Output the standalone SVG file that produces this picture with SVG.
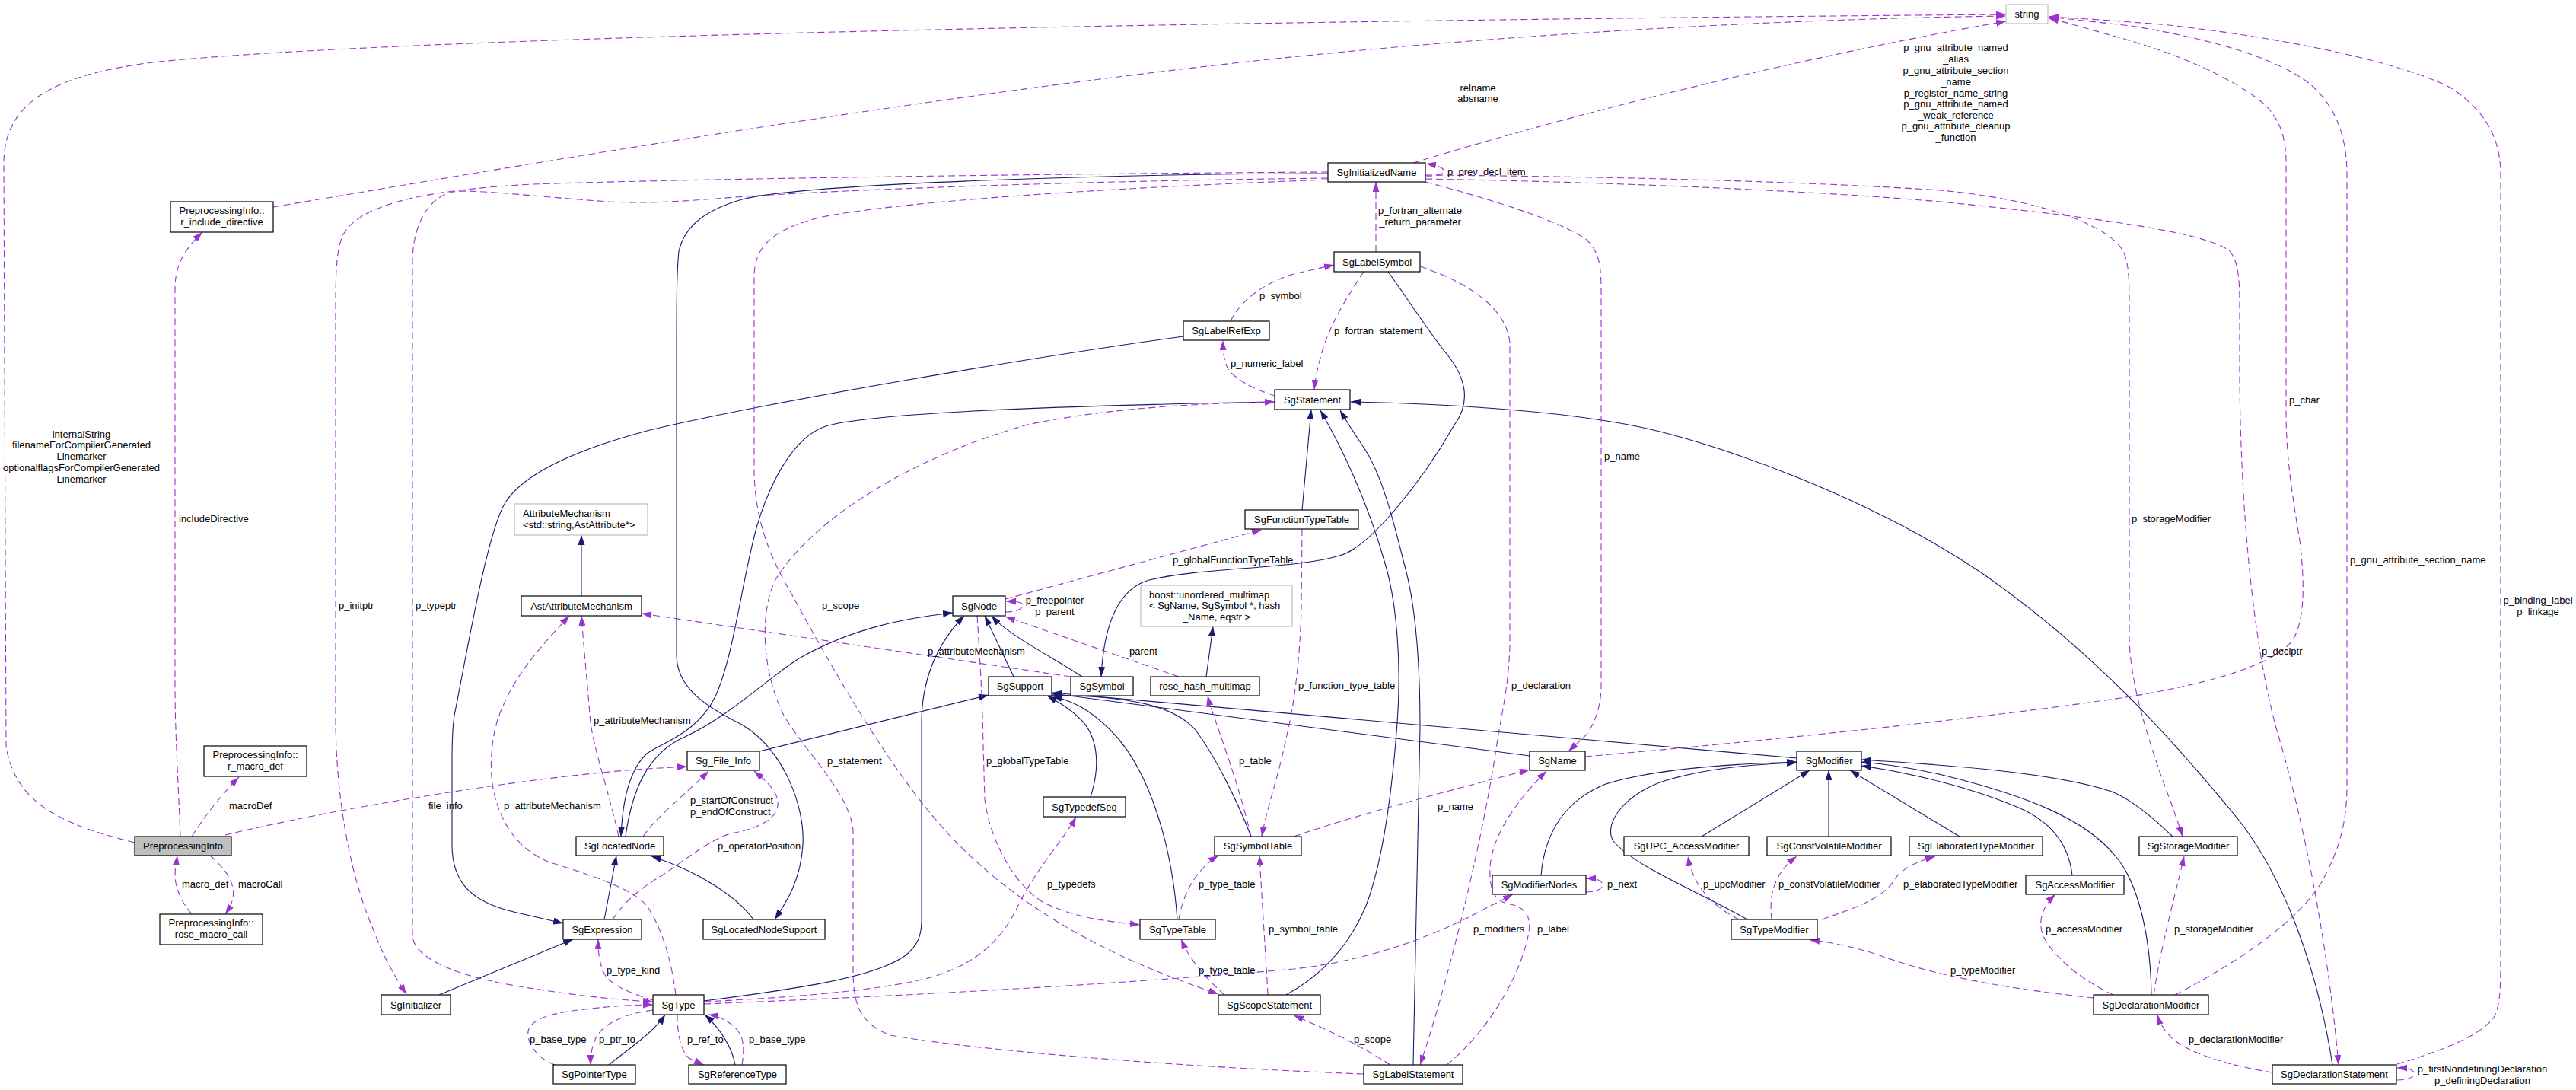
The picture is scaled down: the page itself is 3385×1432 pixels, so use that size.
<svg xmlns="http://www.w3.org/2000/svg" width="3385" height="1432" viewBox="0 0 3385 1432">
<defs>
<style>
text{font-family:"Liberation Sans",Arial,sans-serif;font-size:13px;fill:#000}
.n rect{fill:#fff;stroke:#000;stroke-width:1.2}
.g rect{fill:#fff;stroke:#bfbfbf;stroke-width:1.2}
.h rect{fill:#bfbfbf;stroke:#000;stroke-width:1.2}
.m{text-anchor:middle}
.e{fill:none;stroke:#191970;stroke-width:1.1;marker-end:url(#an)}
.d{fill:none;stroke:#9a32cd;stroke-width:1.1;stroke-dasharray:9,5;marker-end:url(#ap)}
</style>
<marker id="an" viewBox="0 0 13 9" refX="13" refY="4.5" markerWidth="13" markerHeight="9" markerUnits="userSpaceOnUse" orient="auto"><path d="M0,0 L13,4.5 L0,9 z" fill="#191970"/></marker>
<marker id="ap" viewBox="0 0 13 9" refX="13" refY="4.5" markerWidth="13" markerHeight="9" markerUnits="userSpaceOnUse" orient="auto"><path d="M0,0 L13,4.5 L0,9 z" fill="#9a32cd"/></marker>
</defs>
<rect width="3385" height="1432" fill="#fff"/>
<g id="connectors">
<!-- inheritance -->
<path class="e" d="M764,783 L764,703"/>
<path class="e" d="M1585,889 L1594,823"/>
<path class="e" d="M1332,889 L1294,809"/>
<path class="e" d="M1422,889 C1390,867 1325,835 1303,809"/>
<path class="e" d="M925,1315 C1040,1300 1150,1285 1190,1255 C1205,1243 1211,1230 1211,1210 L1211,950 C1211,890 1232,845 1267,809"/>
<path class="e" d="M822,1099 C830,1040 850,990 900,968 C960,940 1010,890 1050,865 C1120,825 1190,812 1252,805"/>
<path class="e" d="M1675,528 C1450,532 1150,540 1085,560 C1040,575 1010,640 995,690 C975,760 965,860 940,915 C915,965 870,975 850,990 C828,1010 818,1050 816,1099"/>
<path class="e" d="M794,1208 L810,1124"/>
<path class="e" d="M577,1307 L753,1234"/>
<path class="e" d="M990,1208 C970,1180 920,1145 856,1125"/>
<path class="e" d="M1745,228 C1500,228 1060,240 975,262 C930,275 900,295 892,330 C889,360 889,400 889,480 L889,860 C889,900 920,925 975,952 C1030,985 1058,1060 1055,1110 C1052,1160 1030,1190 1018,1208"/>
<path class="e" d="M1555,442 C1350,470 1000,530 850,566 C760,590 690,620 664,660 C640,700 615,850 597,940 C594,960 594,980 594,1000 L594,1110 C594,1160 620,1185 675,1198 L740,1213"/>
<path class="e" d="M998,987 L1299,913"/>
<path class="e" d="M1644,1099 C1625,1050 1595,990 1570,958 C1540,925 1480,915 1383,913"/>
<path class="e" d="M1547,1208 C1540,1110 1510,1010 1460,960 C1430,930 1410,922 1383,914"/>
<path class="e" d="M1433,1047 C1448,1000 1440,965 1420,945 C1405,930 1390,922 1376,914"/>
<path class="e" d="M2010,993 L1382,911"/>
<path class="e" d="M2361,996 L1383,910"/>
<path class="e" d="M2025,1150 C2030,1090 2060,1050 2110,1030 C2180,1008 2290,1003 2361,1001"/>
<path class="e" d="M2296,1208 C2230,1170 2150,1140 2120,1105 C2105,1080 2140,1040 2190,1025 C2240,1010 2300,1004 2361,1002"/>
<path class="e" d="M2236,1099 L2378,1012"/>
<path class="e" d="M2403,1099 L2403,1012"/>
<path class="e" d="M2575,1099 L2431,1012"/>
<path class="e" d="M2723,1150 C2718,1105 2690,1075 2645,1058 C2590,1035 2510,1015 2446,1006"/>
<path class="e" d="M2827,1307 C2826,1230 2810,1160 2780,1125 C2740,1075 2660,1045 2560,1020 C2520,1010 2480,1004 2446,1001"/>
<path class="e" d="M2855,1099 C2830,1075 2800,1050 2775,1040 C2700,1015 2560,1005 2446,998"/>
<path class="e" d="M1711,670 L1723,538"/>
<path class="e" d="M1690,1307 C1730,1285 1770,1250 1795,1190 C1818,1130 1830,1030 1836,950 C1842,870 1835,790 1820,740 C1800,670 1770,600 1735,539"/>
<path class="e" d="M1857,1399 L1866,955 C1866,880 1862,800 1845,740 C1830,680 1815,620 1790,585 C1780,570 1770,555 1761,539"/>
<path class="e" d="M3065,1399 C3045,1270 3000,1150 2940,1075 C2870,990 2760,860 2600,750 C2450,650 2250,580 2150,560 C2050,540 1900,530 1775,528"/>
<path class="e" d="M1824,357 C1855,400 1880,440 1905,470 C1935,510 1925,540 1910,560 C1870,630 1800,720 1760,730 C1700,748 1580,745 1510,762 C1465,775 1450,830 1447,889"/>
<path class="e" d="M800,1399 C830,1375 860,1355 874,1333"/>
<path class="e" d="M966,1399 C962,1375 945,1350 926,1333"/>
<!-- usage -->
<path class="d" d="M177,1107 C90,1085 20,1060 8,980 L5,215 C5,140 60,100 200,82 C500,50 1500,28 2636,19"/>
<path class="d" d="M359,272 C700,215 1300,110 1800,65 C2100,38 2400,24 2636,21"/>
<path class="d" d="M1857,214 C2150,125 2450,60 2636,28"/>
<path class="d" d="M237,1099 C233,1000 230,960 230,900 L230,380 C230,350 240,330 266,305"/>
<path class="d" d="M252,1099 C270,1070 295,1040 314,1021"/>
<path class="d" d="M276,1124 C295,1140 310,1160 306,1180 C304,1190 300,1195 296,1201"/>
<path class="d" d="M252,1201 C238,1185 230,1165 230,1150 C230,1140 232,1132 233,1124"/>
<path class="d" d="M296,1097 C450,1060 700,1020 850,1010 L903,1007"/>
<path class="d" d="M1745,226 C1400,228 900,235 700,242 C550,250 470,270 450,310 C442,330 441,360 441,400 L441,950 C442,1050 460,1150 490,1220 C505,1260 520,1285 534,1306"/>
<path class="d" d="M1745,234 C1400,238 1100,250 980,258 C900,264 860,268 800,265 C700,258 620,248 595,252 C560,260 543,300 542,340 L542,1230 C545,1260 600,1280 660,1292 C740,1306 800,1313 858,1316"/>
<path class="d" d="M1745,236 C1500,245 1200,262 1080,285 C1020,300 993,320 991,360 L991,620 C992,680 1010,730 1040,780 C1100,890 1180,1030 1260,1110 C1360,1210 1480,1265 1601,1306"/>
<path class="d" d="M1792,1411 C1500,1400 1250,1375 1170,1360 C1130,1345 1122,1320 1121,1280 L1121,1090 C1115,1040 1060,990 1030,940 C1000,880 998,800 1020,760 C1070,680 1200,600 1350,558 C1460,535 1580,530 1675,528"/>
<path class="d" d="M1873,231 C1888,232 1900,228 1897,223 C1894,219 1886,217 1874,215"/>
<path class="d" d="M1808,331 L1808,239"/>
<path class="d" d="M1792,357 C1770,390 1745,430 1735,470 C1730,490 1728,500 1727,512"/>
<path class="d" d="M1617,422 C1630,395 1660,372 1700,360 L1753,348"/>
<path class="d" d="M1675,520 C1650,512 1625,500 1614,485 C1608,475 1607,460 1607,447"/>
<path class="d" d="M1866,350 C1940,375 1980,410 1984,450 L1984,850 C1982,900 1975,930 1968,970 C1950,1100 1900,1300 1866,1399"/>
<path class="d" d="M1873,239 C1960,262 2050,290 2085,315 C2100,330 2104,345 2104,380 L2104,900 C2104,930 2095,950 2085,965 L2061,987"/>
<path class="d" d="M1700,1099 C1800,1065 1920,1035 2010,1011"/>
<path class="d" d="M1666,1307 C1663,1250 1658,1180 1655,1124"/>
<path class="d" d="M1549,1208 C1555,1170 1575,1140 1601,1124"/>
<path class="d" d="M1609,1307 C1590,1290 1565,1265 1552,1234"/>
<path class="d" d="M1644,1099 C1630,1040 1612,990 1600,955 C1595,940 1590,928 1587,914"/>
<path class="d" d="M1711,695 L1710,800 C1708,870 1700,930 1690,970 C1680,1020 1665,1060 1658,1099"/>
<path class="d" d="M1321,787 L1658,696"/>
<path class="d" d="M1321,804 C1338,804 1347,798 1343,793 C1339,790 1332,790 1322,790"/>
<path class="d" d="M1549,889 L1321,810"/>
<path class="d" d="M1407,889 L843,806"/>
<path class="d" d="M813,1099 C800,1040 782,990 776,950 C772,900 767,850 764,809"/>
<path class="d" d="M888,1307 C882,1260 870,1220 850,1190 C830,1165 760,1145 720,1132 C680,1115 655,1080 647,1030 C642,990 650,950 660,930 C680,880 720,840 748,809"/>
<path class="d" d="M805,1208 C820,1185 840,1168 870,1150 C900,1130 930,1105 960,1095 C1000,1088 1020,1075 1022,1058 C1024,1040 1005,1025 991,1013"/>
<path class="d" d="M845,1099 C865,1070 905,1040 931,1013"/>
<path class="d" d="M858,1314 C830,1305 800,1295 792,1275 C787,1260 786,1250 786,1234"/>
<path class="d" d="M925,1316 C1050,1310 1170,1300 1230,1282 C1290,1262 1320,1230 1340,1185 C1370,1130 1400,1100 1414,1073"/>
<path class="d" d="M1284,809 C1288,870 1291,920 1292,980 L1294,1050 C1300,1100 1330,1160 1370,1185 C1410,1205 1450,1210 1498,1215"/>
<path class="d" d="M925,1319 C1150,1310 1450,1295 1700,1273 C1800,1262 1880,1230 1930,1205 L1988,1175"/>
<path class="d" d="M2084,1172 C2100,1172 2108,1166 2105,1160 C2102,1155 2095,1154 2084,1154"/>
<path class="d" d="M1827,1399 C1790,1375 1750,1355 1700,1334"/>
<path class="d" d="M1901,1399 C1950,1360 1995,1290 2008,1230 C2015,1200 2000,1190 1980,1187 C1962,1183 1957,1165 1958,1140 C1960,1100 1990,1055 2032,1013"/>
<path class="d" d="M2285,1208 C2250,1190 2225,1165 2218,1125"/>
<path class="d" d="M2328,1208 C2325,1180 2328,1150 2361,1125"/>
<path class="d" d="M2394,1208 C2440,1192 2475,1180 2490,1155 C2500,1140 2520,1132 2543,1125"/>
<path class="d" d="M2751,1311 C2650,1300 2550,1285 2470,1255 C2430,1242 2400,1237 2378,1235"/>
<path class="d" d="M2777,1307 C2740,1290 2700,1260 2685,1230 C2675,1205 2690,1185 2701,1175"/>
<path class="d" d="M2830,1307 C2840,1240 2860,1170 2870,1125"/>
<path class="d" d="M1873,230 C2150,232 2400,240 2550,250 C2680,262 2770,295 2790,330 C2797,345 2798,365 2798,400 L2798,840 C2800,900 2820,960 2840,1020 C2855,1060 2862,1080 2868,1099"/>
<path class="d" d="M1873,235 C2150,240 2400,252 2550,265 C2750,285 2900,305 2930,330 C2940,342 2943,360 2943,400 L2943,500 C2945,700 2965,870 2995,970 C3030,1090 3060,1250 3073,1399"/>
<path class="d" d="M2083,994 C2300,975 2600,945 2800,915 C2920,895 2990,870 3012,842 C3030,815 3028,760 3022,710 C3012,650 3004,600 3004,540 L3004,210 C3003,170 2990,145 2960,125 C2920,97 2860,70 2780,48 C2740,37 2715,29 2692,24"/>
<path class="d" d="M2858,1307 C2940,1265 3020,1210 3050,1160 C3075,1115 3084,1080 3084,1030 L3084,230 C3084,180 3070,140 3035,110 C2990,75 2900,50 2800,34 L2692,22"/>
<path class="d" d="M3150,1398 C3210,1380 3262,1360 3278,1335 C3285,1320 3286,1300 3286,1260 L3286,230 C3286,180 3265,145 3220,115 C3150,80 3000,50 2850,33 C2780,27 2730,24 2692,22"/>
<path class="d" d="M3150,1419 C3165,1419 3175,1414 3172,1409 C3169,1404 3162,1403 3150,1403"/>
<path class="d" d="M2986,1409 C2930,1400 2880,1385 2855,1365 C2845,1355 2838,1345 2835,1333"/>
<path class="d" d="M729,1399 C705,1390 692,1370 694,1355 C697,1340 720,1332 760,1327 C800,1322 830,1320 858,1320"/>
<path class="d" d="M858,1327 C820,1332 795,1345 785,1360 C778,1372 776,1385 776,1399"/>
<path class="d" d="M890,1333 C890,1360 895,1380 905,1390 L925,1399"/>
<path class="d" d="M975,1399 C978,1380 978,1365 970,1355 C960,1342 945,1335 931,1333"/>
<!-- labels -->
<g id="edge-labels">
<text class="m" x="107" y="574.5">internalString</text>
<text class="m" x="107" y="589">filenameForCompilerGenerated</text>
<text class="m" x="107" y="604">Linemarker</text>
<text class="m" x="107" y="618.5">optionalflagsForCompilerGenerated</text>
<text class="m" x="107" y="633.5">Linemarker</text>
<text class="m" x="1942" y="119.5">relname</text>
<text class="m" x="1942" y="134">absname</text>
<text x="235" y="686">includeDirective</text>
<text x="301" y="1062.5">macroDef</text>
<text x="313" y="1166">macroCall</text>
<text x="239" y="1166">macro_def</text>
<text x="563" y="1062.5">file_info</text>
<text x="445" y="799.5">p_initptr</text>
<text x="546" y="799.5">p_typeptr</text>
<text class="m" x="2570" y="67">p_gnu_attribute_named</text>
<text class="m" x="2570" y="82">_alias</text>
<text class="m" x="2570" y="97">p_gnu_attribute_section</text>
<text class="m" x="2570" y="111.5">_name</text>
<text class="m" x="2570" y="126.5">p_register_name_string</text>
<text class="m" x="2570" y="141">p_gnu_attribute_named</text>
<text class="m" x="2570" y="155.5">_weak_reference</text>
<text class="m" x="2570" y="170">p_gnu_attribute_cleanup</text>
<text class="m" x="2570" y="185">_function</text>
<text x="1902" y="230">p_prev_decl_item</text>
<text class="m" x="1866" y="281">p_fortran_alternate</text>
<text class="m" x="1866" y="296">_return_parameter</text>
<text x="1753" y="438.5">p_fortran_statement</text>
<text x="1655" y="392.5">p_symbol</text>
<text x="1617" y="482">p_numeric_label</text>
<text x="1986" y="905">p_declaration</text>
<text x="2108" y="603.5">p_name</text>
<text x="1889" y="1063.5">p_name</text>
<text x="1667" y="1225">p_symbol_table</text>
<text x="1575" y="1166">p_type_table</text>
<text x="1575" y="1278.5">p_type_table</text>
<text x="1628" y="1003.5">p_table</text>
<text x="1706" y="905">p_function_type_table</text>
<text x="1541" y="739.5">p_globalFunctionTypeTable</text>
<text class="m" x="1386" y="792.5">p_freepointer</text>
<text class="m" x="1386" y="807.5">p_parent</text>
<text x="1484" y="859.5">parent</text>
<text x="1219" y="859.5">p_attributeMechanism</text>
<text x="780" y="950.5">p_attributeMechanism</text>
<text x="662" y="1062.5">p_attributeMechanism</text>
<text x="943" y="1115.5">p_operatorPosition</text>
<text x="907" y="1056">p_startOfConstruct</text>
<text x="907" y="1071">p_endOfConstruct</text>
<text x="797" y="1278.5">p_type_kind</text>
<text x="1376" y="1166">p_typedefs</text>
<text x="1296" y="1003.5">p_globalTypeTable</text>
<text x="1087" y="1003.5">p_statement</text>
<text x="1080" y="799.5">p_scope</text>
<text x="1779" y="1369.5">p_scope</text>
<text x="1936" y="1225">p_modifiers</text>
<text x="2020" y="1225">p_label</text>
<text x="2112" y="1166">p_next</text>
<text x="2238" y="1166">p_upcModifier</text>
<text x="2337" y="1166">p_constVolatileModifier</text>
<text x="2501" y="1166">p_elaboratedTypeModifier</text>
<text x="2563" y="1278.5">p_typeModifier</text>
<text x="2688" y="1225">p_accessModifier</text>
<text x="2857" y="1225">p_storageModifier</text>
<text x="2801" y="686">p_storageModifier</text>
<text x="2972" y="859.5">p_declptr</text>
<text x="3008" y="529.5">p_char</text>
<text x="3088" y="739.5">p_gnu_attribute_section_name</text>
<text class="m" x="3335" y="792.5">p_binding_label</text>
<text class="m" x="3335" y="807.5">p_linkage</text>
<text class="m" x="3262" y="1408.5">p_firstNondefiningDeclaration</text>
<text class="m" x="3262" y="1423.5">p_definingDeclaration</text>
<text x="2876" y="1369.5">p_declarationModifier</text>
<text x="696" y="1369.5">p_base_type</text>
<text x="787" y="1369.5">p_ptr_to</text>
<text x="903" y="1369.5">p_ref_to</text>
<text x="984" y="1369.5">p_base_type</text>
</g>
</g>
<g id="n_string" class="g"><rect x="2636" y="6" width="55" height="25"/><text class="m" x="2663.5" y="23">string</text></g>
<g id="n_r_include_directive" class="n"><rect x="224" y="265" width="135" height="40"/><text class="m" x="291.5" y="281">PreprocessingInfo::</text><text class="m" x="291.5" y="296">r_include_directive</text></g>
<g id="n_SgInitializedName" class="n"><rect x="1745" y="214" width="128" height="25"/><text class="m" x="1809" y="231">SgInitializedName</text></g>
<g id="n_SgLabelSymbol" class="n"><rect x="1753" y="331" width="113" height="26"/><text class="m" x="1809.5" y="348.5">SgLabelSymbol</text></g>
<g id="n_SgLabelRefExp" class="n"><rect x="1555" y="422" width="113" height="25"/><text class="m" x="1611.5" y="439">SgLabelRefExp</text></g>
<g id="n_SgStatement" class="n"><rect x="1675" y="512" width="99" height="26"/><text class="m" x="1724.5" y="529.5">SgStatement</text></g>
<g id="n_SgFunctionTypeTable" class="n"><rect x="1636" y="670" width="149" height="25"/><text class="m" x="1710.5" y="687">SgFunctionTypeTable</text></g>
<g id="n_AttributeMechanism" class="g"><rect x="676" y="662" width="175" height="41"/><text x="687" y="679">AttributeMechanism</text><text x="687" y="694">&lt;std::string,AstAttribute*&gt;</text></g>
<g id="n_AstAttributeMechanism" class="n"><rect x="685" y="783" width="158" height="26"/><text class="m" x="764" y="800.5">AstAttributeMechanism</text></g>
<g id="n_SgNode" class="n"><rect x="1252" y="783" width="69" height="26"/><text class="m" x="1286.5" y="800.5">SgNode</text></g>
<g id="n_boost_multimap" class="g"><rect x="1499" y="769" width="199" height="54"/><text x="1510" y="785.5">boost::unordered_multimap</text><text x="1510" y="800">&lt; SgName, SgSymbol *, hash</text><text class="m" x="1598.5" y="814.5">_Name, eqstr &gt;</text></g>
<g id="n_SgSupport" class="n"><rect x="1299" y="889" width="83" height="25"/><text class="m" x="1340.5" y="906">SgSupport</text></g>
<g id="n_SgSymbol" class="n"><rect x="1407" y="889" width="82" height="25"/><text class="m" x="1448" y="906">SgSymbol</text></g>
<g id="n_rose_hash_multimap" class="n"><rect x="1512" y="889" width="143" height="25"/><text class="m" x="1583.5" y="906">rose_hash_multimap</text></g>
<g id="n_r_macro_def" class="n"><rect x="268" y="980" width="135" height="40"/><text class="m" x="335.5" y="996">PreprocessingInfo::</text><text class="m" x="335.5" y="1011">r_macro_def</text></g>
<g id="n_PreprocessingInfo" class="h"><rect x="177" y="1099" width="127" height="25"/><text class="m" x="240.5" y="1116">PreprocessingInfo</text></g>
<g id="n_rose_macro_call" class="n"><rect x="210" y="1201" width="135" height="40"/><text class="m" x="277.5" y="1217">PreprocessingInfo::</text><text class="m" x="277.5" y="1232">rose_macro_call</text></g>
<g id="n_SgInitializer" class="n"><rect x="501" y="1307" width="91" height="26"/><text class="m" x="546.5" y="1324.5">SgInitializer</text></g>
<g id="n_SgPointerType" class="n"><rect x="727" y="1399" width="108" height="25"/><text class="m" x="781" y="1416">SgPointerType</text></g>
<g id="n_SgExpression" class="n"><rect x="740" y="1208" width="103" height="26"/><text class="m" x="791.5" y="1225.5">SgExpression</text></g>
<g id="n_SgLocatedNode" class="n"><rect x="757" y="1099" width="115" height="25"/><text class="m" x="814.5" y="1116">SgLocatedNode</text></g>
<g id="n_Sg_File_Info" class="n"><rect x="903" y="987" width="95" height="25"/><text class="m" x="950.5" y="1004">Sg_File_Info</text></g>
<g id="n_SgLocatedNodeSupport" class="n"><rect x="924" y="1208" width="160" height="26"/><text class="m" x="1004" y="1225.5">SgLocatedNodeSupport</text></g>
<g id="n_SgType" class="n"><rect x="858" y="1307" width="67" height="26"/><text class="m" x="891.5" y="1324.5">SgType</text></g>
<g id="n_SgReferenceType" class="n"><rect x="905" y="1399" width="128" height="25"/><text class="m" x="969" y="1416">SgReferenceType</text></g>
<g id="n_SgTypedefSeq" class="n"><rect x="1371" y="1047" width="108" height="26"/><text class="m" x="1425" y="1064.5">SgTypedefSeq</text></g>
<g id="n_SgTypeTable" class="n"><rect x="1498" y="1208" width="99" height="26"/><text class="m" x="1547.5" y="1225.5">SgTypeTable</text></g>
<g id="n_SgSymbolTable" class="n"><rect x="1596" y="1099" width="114" height="25"/><text class="m" x="1653" y="1116">SgSymbolTable</text></g>
<g id="n_SgScopeStatement" class="n"><rect x="1601" y="1307" width="134" height="26"/><text class="m" x="1668" y="1324.5">SgScopeStatement</text></g>
<g id="n_SgName" class="n"><rect x="2010" y="987" width="73" height="25"/><text class="m" x="2046.5" y="1004">SgName</text></g>
<g id="n_SgModifier" class="n"><rect x="2361" y="987" width="85" height="25"/><text class="m" x="2403.5" y="1004">SgModifier</text></g>
<g id="n_SgModifierNodes" class="n"><rect x="1961" y="1150" width="123" height="25"/><text class="m" x="2022.5" y="1167">SgModifierNodes</text></g>
<g id="n_SgUPC_AccessModifier" class="n"><rect x="2134" y="1099" width="164" height="25"/><text class="m" x="2216" y="1116">SgUPC_AccessModifier</text></g>
<g id="n_SgConstVolatileModifier" class="n"><rect x="2322" y="1099" width="163" height="25"/><text class="m" x="2403.5" y="1116">SgConstVolatileModifier</text></g>
<g id="n_SgElaboratedTypeModifier" class="n"><rect x="2509" y="1099" width="175" height="25"/><text class="m" x="2596.5" y="1116">SgElaboratedTypeModifier</text></g>
<g id="n_SgTypeModifier" class="n"><rect x="2275" y="1208" width="113" height="26"/><text class="m" x="2331.5" y="1225.5">SgTypeModifier</text></g>
<g id="n_SgLabelStatement" class="n"><rect x="1792" y="1399" width="130" height="25"/><text class="m" x="1857" y="1416">SgLabelStatement</text></g>
<g id="n_SgStorageModifier" class="n"><rect x="2811" y="1099" width="129" height="25"/><text class="m" x="2875.5" y="1116">SgStorageModifier</text></g>
<g id="n_SgAccessModifier" class="n"><rect x="2662" y="1150" width="129" height="25"/><text class="m" x="2726.5" y="1167">SgAccessModifier</text></g>
<g id="n_SgDeclarationModifier" class="n"><rect x="2751" y="1307" width="151" height="26"/><text class="m" x="2826.5" y="1324.5">SgDeclarationModifier</text></g>
<g id="n_SgDeclarationStatement" class="n"><rect x="2986" y="1399" width="163" height="25"/><text class="m" x="3067.5" y="1416">SgDeclarationStatement</text></g>
</svg>
